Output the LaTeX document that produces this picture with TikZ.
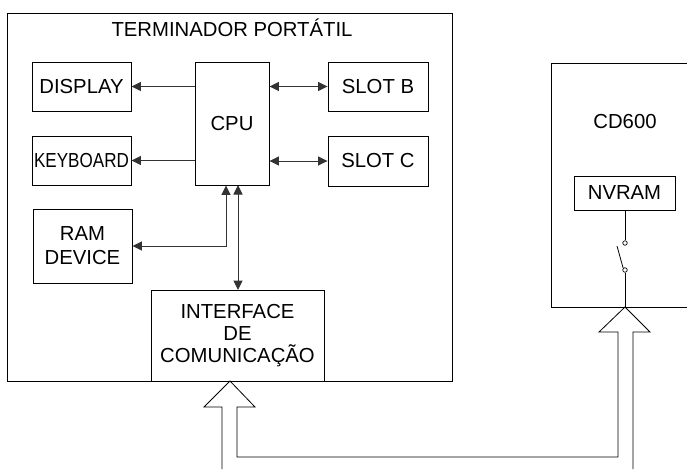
\documentclass[tikz,border=0pt]{standalone}
\usepackage{fontspec}
\setmainfont{Liberation Sans}
\usetikzlibrary{arrows.meta}
\tikzset{
  box/.style={draw=black, line width=0.9pt, rectangle, inner sep=0pt, align=center,
    font=\fontsize{20.3}{23}\selectfont},
  lbl/.style={inner sep=0pt, align=center, font=\fontsize{20.3}{23}\selectfont},
  conn/.style={draw=black!80, line width=1pt},
  tip/.style={-{Triangle[length=9.5pt,width=9pt]}},
  tips/.style={{Triangle[length=9.5pt,width=9pt]}-{Triangle[length=9.5pt,width=9pt]}},
  wire/.style={draw=black, line width=0.8pt},
  hollow/.style={draw=black, line width=0.8pt, line join=miter},
}
\begin{document}
\begin{tikzpicture}[x=1pt,y=-1pt]
\useasboundingbox (0,0) rectangle (687,469);
% outer box
\node[box, minimum width=445pt, minimum height=368pt] (term) at (229.5,197) {};
\node[lbl] (title) at (232,28) {TERMINADOR PORTÁTIL};
% inner boxes
\node[box, minimum width=99pt, minimum height=49pt] (disp) at (81.5,86.5) {DISPLAY};
\node[box, minimum width=99pt, minimum height=49pt] (kbd) at (81.5,160.5) {\scalebox{0.84}[1]{KEYBOARD}};
\node[box, minimum width=74pt, minimum height=123pt] (cpu) at (232,123.5) {CPU};
\node[box, minimum width=100pt, minimum height=49pt] (slotb) at (378,86.5) {SLOT B};
\node[box, minimum width=100pt, minimum height=50pt] (slotc) at (378,161) {SLOT C};
\node[box, minimum width=99pt, minimum height=74pt, font=\fontsize{20.3}{24}\selectfont] (ram) at (82.5,246) {RAM\\DEVICE};
\node[box, minimum width=173pt, minimum height=91pt, font=\fontsize{20.3}{22}\selectfont] (intf) at (237.5,335.5) {INTERFACE\\DE\\COMUNICAÇÃO};
% connectors
\draw[conn, tip] (cpu.west |- disp.east) -- (disp.east);
\draw[conn, tip] (cpu.west |- kbd.east) -- (kbd.east);
\draw[conn, tips] (cpu.east |- slotb.west) -- (slotb.west);
\draw[conn, tips] (cpu.east |- slotc.west) -- (slotc.west);
\coordinate (rb) at (226,246);
\draw[conn, tips] (ram.east) -- (rb) -- (rb |- cpu.south);
\draw[conn, tips] (238,185) -- (238,290);
% CD600
\draw[line width=0.9pt] (687,63) -- (551,63) -- (551,307) -- (687,307);
\node[lbl] (cd) at (625,122) {CD600};
\node[box, minimum width=101pt, minimum height=34pt] (nvram) at (624.5,193) {NVRAM};
\node[draw, circle, inner sep=0pt, minimum size=4.5pt, line width=0.7pt] (s1) at (625,243) {};
\node[draw, circle, inner sep=0pt, minimum size=4.5pt, line width=0.7pt] (s2) at (625,270) {};
\coordinate (cdb) at (625,307);
\draw[wire] (nvram.south -| s1) -- (s1.north);
\draw[wire] (s2.north west) -- (617,246);
\draw[wire] (s2.south) -- (cdb);
% hollow double arrow (bus)
\coordinate (ltip) at (230,381);
\coordinate (rtip) at (625,307);
\draw[hollow] (222,469) -- (222,407) -- (204,407) -- (ltip) -- (255,407) -- (237,407)
   -- (237,457) -- (618,457) -- (618,332) -- (599,332) -- (rtip) -- (650,332) -- (633,332) -- (633,469);
\end{tikzpicture}
\end{document}
